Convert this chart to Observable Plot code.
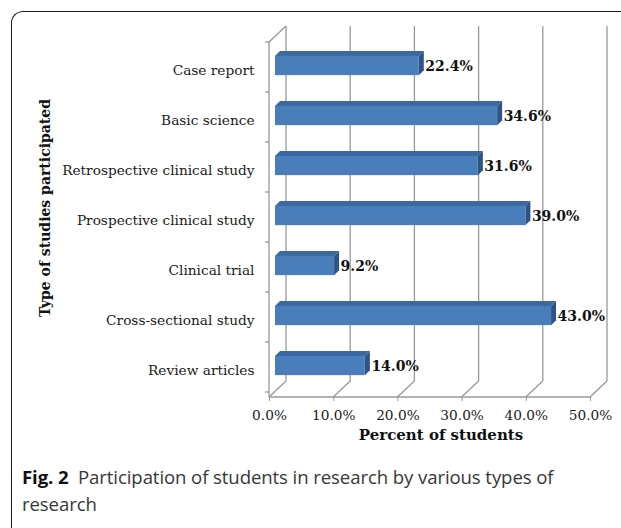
<!DOCTYPE html>
<html><head><meta charset="utf-8">
<script src="https://cdn.jsdelivr.net/npm/d3@7"></script>
<script src="https://cdn.jsdelivr.net/npm/@observablehq/plot@0.6"></script>
<style>
body{margin:0;background:#fff;width:621px;height:528px;overflow:hidden;position:relative;}
#frame{position:absolute;left:11px;top:11px;width:700px;height:600px;border-left:1.6px solid #1e1e1e;border-top:1.6px solid #1e1e1e;border-top-left-radius:12px;}
#chart{position:absolute;left:0;top:0;}
#caption{position:absolute;left:22px;top:463px;font-family:"Open Sans";font-size:18.6px;line-height:27px;color:#383838;white-space:nowrap;letter-spacing:-0.1px;}
#caption b{color:#111;font-weight:700;}
</style></head>
<body>
<div id="frame"></div>
<div id="chart"></div>
<div id="caption"><b>Fig. 2</b>&nbsp; Participation of students in research by various types of<br>research</div>
<script>
const categories = ["Case report","Basic science","Retrospective clinical study","Prospective clinical study","Clinical trial","Cross-sectional study","Review articles"];
const values = [22.4, 34.6, 31.6, 39.0, 9.2, 43.0, 14.0];
const xTicks = [0, 10, 20, 30, 40, 50];
const xTitle = "Percent of students";
const yTitle = "Type of studies participated";

const data = categories.map((c, i) => ({category: c, value: values[i]}));
const serif = "DejaVu Serif";
const grid = "#999999";
const DEPTH_X = 17, DEPTH_Y = -16;
const BAR_X = 6, BAR_Y = -4.5;
const BAR_DX = 5, BAR_DY = -5;
const BAR_FRAC = 0.385;

function bandwidth(y, dims) {
  return y.bandwidth ? y.bandwidth() : (dims.height - dims.marginTop - dims.marginBottom) / categories.length;
}

const walls = Plot.ruleX(xTicks, {
  x: d => d,
  render: (index, scales, values, dims) => {
    const {x, y} = scales;
    const bw = bandwidth(y, dims);
    const g = d3.create("svg:g").attr("fill", "none").attr("stroke", grid).attr("stroke-width", 1.3);
    const top = dims.marginTop, bottom = dims.height - dims.marginBottom;
    const x0 = x(0), x1 = x(xTicks[xTicks.length - 1]);
    const line = (a, b, c, d) => g.append("line").attr("x1", a).attr("y1", b).attr("x2", c).attr("y2", d);
    for (const i of index) {
      const px = x(xTicks[i]);
      line(px + DEPTH_X, top + DEPTH_Y, px + DEPTH_X, bottom + DEPTH_Y);
      line(px, bottom, px + DEPTH_X, bottom + DEPTH_Y);
    }
    line(x0, top, x0 + DEPTH_X, top + DEPTH_Y);
    line(x0, top, x0, bottom);
    line(x0, bottom, x1, bottom);
    for (let k = 0; k <= categories.length; ++k) {
      const yk = top + k * bw;
      line(x0 - 4, yk, x0, yk);
    }
    return g.node();
  }
});

const bars = Plot.barX(data, {
  x: "value", y: "category",
  render: (index, scales, values, dims) => {
    const {x, y} = scales;
    const bw = bandwidth(y, dims);
    const g = d3.create("svg:g");
    for (const i of index) {
      const d = data[i];
      const xl = x(0) + BAR_X, xr = x(d.value) + BAR_X;
      const yc = y(d.category) + bw / 2 + BAR_Y, h = bw * BAR_FRAC;
      const yt = yc - h / 2, yb = yc + h / 2;
      g.append("polygon").attr("points", [[xl, yt], [xr, yt], [xr + BAR_DX, yt + BAR_DY], [xl + BAR_DX, yt + BAR_DY]].join(" ")).attr("fill", "#3c68a1");
      g.append("polygon").attr("points", [[xr, yt], [xr + BAR_DX, yt + BAR_DY], [xr + BAR_DX, yb + BAR_DY], [xr, yb]].join(" ")).attr("fill", "#2e5485");
      g.append("rect").attr("x", xl).attr("y", yt).attr("width", xr - xl).attr("height", h).attr("fill", "#4a7ebb");
    }
    return g.node();
  }
});

const chart = Plot.plot({
  width: 621, height: 460,
  marginLeft: 269, marginRight: 31, marginTop: 42, marginBottom: 63,
  style: {fontFamily: serif, fontSize: "13.7px", color: "#1a1a1a", background: "transparent"},
  x: {domain: [0, 50], axis: null},
  y: {domain: categories, padding: 0, axis: null},
  marks: [
    walls,
    bars,
    Plot.axisX({ticks: xTicks, tickSize: 4, tickPadding: 9, tickFormat: d => d.toFixed(1) + "%", label: null, stroke: grid, fill: "#1a1a1a"}),
    Plot.axisY({tickSize: 0, tickPadding: 15, label: null, fill: "#1a1a1a"}),
    Plot.text(data, {x: "value", y: "category", text: d => d.value.toFixed(1) + "%", textAnchor: "start", dx: 12, dy: -4, fontWeight: "bold", fontSize: 14, fill: "#111"}),
    Plot.text([xTitle], {frameAnchor: "bottom", dx: 11, dy: 42, fontWeight: "bold", fontSize: 15, fill: "#111"}),
    Plot.text([yTitle], {frameAnchor: "left", textAnchor: "middle", rotate: -90, dx: -224, dy: -12, fontWeight: "bold", fontSize: 14, fill: "#111"})
  ]
});
document.getElementById("chart").appendChild(chart);
</script>
</body></html>
